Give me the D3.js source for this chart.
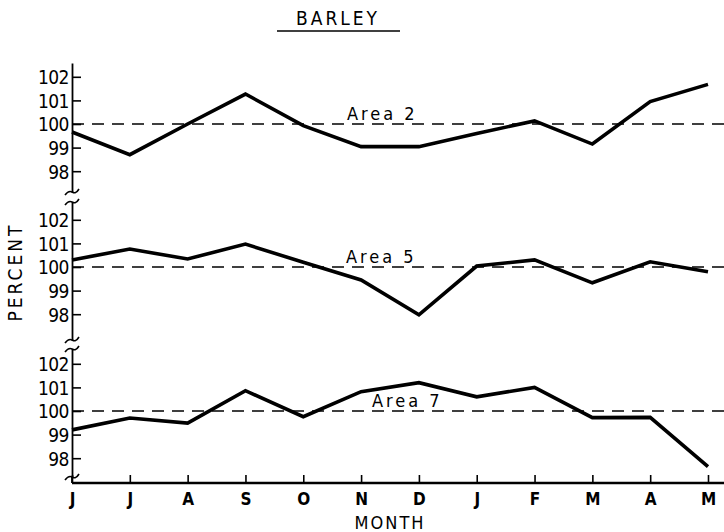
<!DOCTYPE html>
<html>
<head>
<meta charset="utf-8">
<script src="https://cdn.jsdelivr.net/npm/d3@7"></script>
<style>
  body { margin: 0; background: #fff; }
  text { font-family: "DejaVu Sans Condensed", "Liberation Sans Narrow", "DejaVu Sans", sans-serif; font-stretch: condensed; fill: #000; }
</style>
</head>
<body>
<div id="chart"></div>
<script>
// data
var months = ["J", "J", "A", "S", "O", "N", "D", "J", "F", "M", "A", "M"];
var area2 = [99.66, 98.7, 100.0, 101.27, 99.93, 99.04, 99.04, 99.6, 100.13, 99.15, 100.95, 101.68];
var area5 = [100.3, 100.76, 100.34, 100.97, 100.2, 99.45, 97.97, 100.04, 100.3, 99.33, 100.22, 99.8];
var area7 = [99.2, 99.7, 99.49, 100.86, 99.76, 100.82, 101.2, 100.6, 101.0, 99.72, 99.73, 97.64];
var areaNames = ["Area 2", "Area 5", "Area 7"];
var yTicks = [98, 99, 100, 101, 102];
var baseline = 100;

var svgWidth = 724;
var svgHeight = 532;

// layout of the three stacked panels
var axisX = 72;
var rightX = 708;
var xAxisY = 483;
var unit = 23.6;                 // px per percent
var panelTop = [63, 202, 349];
var panelZero = [124, 267, 411];
var panelBottom = [192, 340, 477];
var labelX = [347, 346, 372];
var breaks = [192, 202, 340, 349, 477];

var svg = d3.select("#chart")
  .append("svg")
  .attr("width", svgWidth)
  .attr("height", svgHeight);

var x = d3.scalePoint()
  .domain(d3.range(months.length))
  .range([axisX, rightX]);

var series = [area2, area5, area7];

var line = function(y) {
  return d3.line()
    .x(function(d, i) { return x(i); })
    .y(function(d) { return y(d); });
};

series.forEach(function(values, p) {
  var y0 = d3.scaleLinear()
    .domain([baseline - 1, baseline + 1])
    .range([panelZero[p] + unit, panelZero[p] - unit]);
  var y = d3.scaleLinear()
    .domain([y0.invert(panelBottom[p]), y0.invert(panelTop[p])])
    .range([panelBottom[p], panelTop[p]]);

  var g = svg.append("g").attr("class", "panel");

  // y axis, ticks pointing inward
  var yAxis = g.append("g")
    .attr("transform", "translate(" + axisX + ",0)")
    .call(d3.axisLeft(y).tickValues(yTicks).tickFormat(d3.format("d"))
      .tickSize(-9).tickSizeOuter(0).tickPadding(3));
  yAxis.select(".domain").attr("stroke", "#000").attr("stroke-width", 1.8);
  yAxis.selectAll(".tick line").attr("stroke", "#000").attr("stroke-width", 1.6);
  yAxis.selectAll(".tick text")
    .attr("font-size", 19)
    .attr("dy", "0.36em")
    .attr("letter-spacing", -0.5);

  // 100% reference line
  g.append("line")
    .attr("x1", axisX)
    .attr("x2", svgWidth)
    .attr("y1", y(baseline))
    .attr("y2", y(baseline))
    .attr("stroke", "#000")
    .attr("stroke-width", 1.6)
    .attr("stroke-dasharray", "12,8");

  g.append("text")
    .attr("x", labelX[p])
    .attr("y", y(baseline) - 4)
    .attr("font-size", 18)
    .attr("letter-spacing", 3)
    .text(areaNames[p]);

  g.append("path")
    .datum(values)
    .attr("fill", "none")
    .attr("stroke", "#000")
    .attr("stroke-width", 3.6)
    .attr("stroke-linejoin", "miter")
    .attr("d", line(y));
});

// axis break marks
svg.append("g")
  .selectAll("path")
  .data(breaks)
  .enter()
  .append("path")
  .attr("transform", function(d) { return "translate(" + axisX + "," + d + ")"; })
  .attr("d", "M-7,3 C-4,-1 -2,-1 0,0 S4,2 7,-3")
  .attr("fill", "none")
  .attr("stroke", "#000")
  .attr("stroke-width", 1.6);

// little stub joining the bottom break to the month axis
svg.append("line")
  .attr("x1", axisX).attr("x2", axisX)
  .attr("y1", breaks[breaks.length - 1]).attr("y2", xAxisY)
  .attr("stroke", "#000").attr("stroke-width", 1.8);

// month axis
var xAxis = svg.append("g")
  .attr("transform", "translate(0," + xAxisY + ")")
  .call(d3.axisBottom(x).tickSize(-8).tickSizeOuter(0).tickPadding(10)
    .tickFormat(function(i) { return months[i]; }));
xAxis.select(".domain").remove();
xAxis.selectAll(".tick line").attr("stroke", "#000").attr("stroke-width", 1.6);
xAxis.selectAll(".tick text").attr("font-size", 17).attr("font-weight", "bold");

xAxis.append("line")
  .attr("x1", axisX)
  .attr("x2", svgWidth)
  .attr("stroke", "#000")
  .attr("stroke-width", 2.4);

svg.append("text")
  .attr("x", 390)
  .attr("y", 529)
  .attr("text-anchor", "middle")
  .attr("font-size", 18)
  .attr("letter-spacing", 2)
  .text("MONTH");

svg.append("text")
  .attr("transform", "translate(22,272) rotate(-90)")
  .attr("text-anchor", "middle")
  .attr("font-size", 19)
  .attr("letter-spacing", 3)
  .text("PERCENT");

// title
svg.append("text")
  .attr("x", 338)
  .attr("y", 25)
  .attr("text-anchor", "middle")
  .attr("font-size", 19)
  .attr("letter-spacing", 3)
  .text("BARLEY");

svg.append("line")
  .attr("x1", 277)
  .attr("x2", 400)
  .attr("y1", 31)
  .attr("y2", 31)
  .attr("stroke", "#000")
  .attr("stroke-width", 1.6);
</script>
</body>
</html>
